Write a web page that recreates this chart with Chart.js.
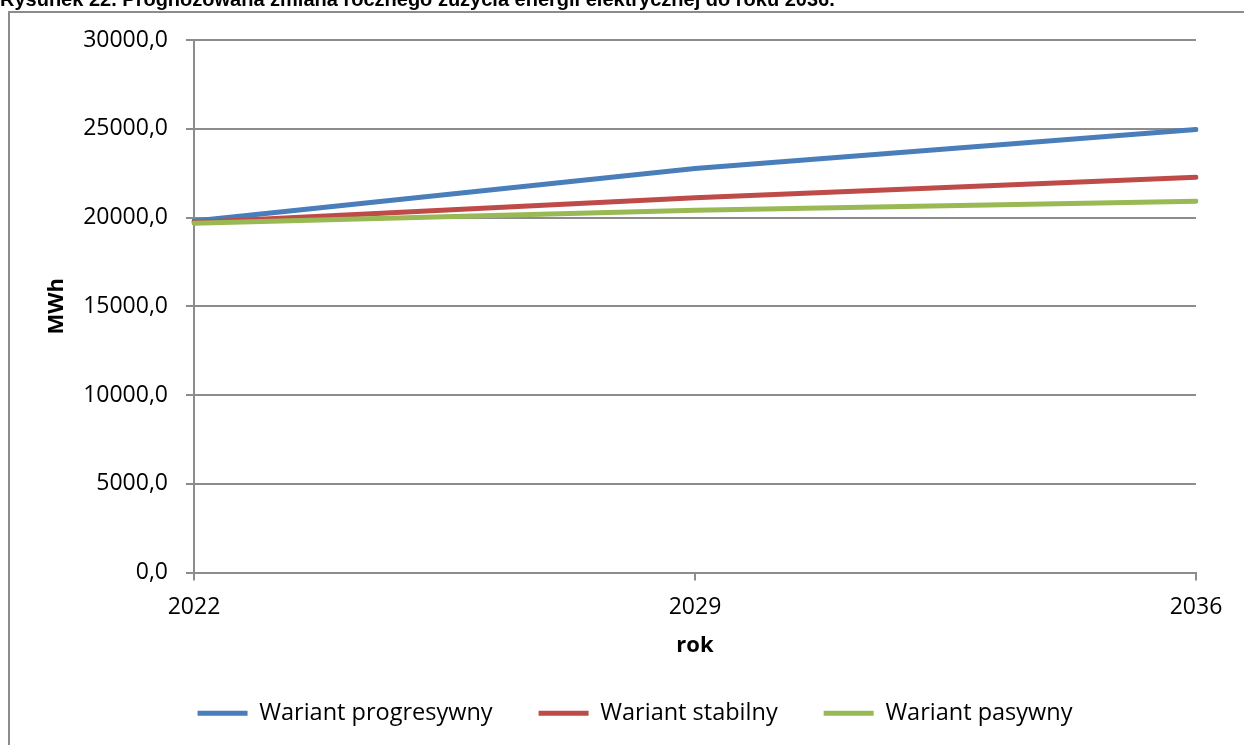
<!DOCTYPE html>
<html>
<head>
<meta charset="utf-8">
<script src="https://cdn.jsdelivr.net/npm/chart.js@4/dist/chart.umd.min.js"></script>
<style>
  html, body { margin: 0; padding: 0; background: #fff; overflow: hidden; }
  #frame { position: absolute; left: 8px; top: 11px; width: 1300px; height: 800px; border: 2px solid #8c8c8c; }
  #wrap { position: absolute; left: 0; top: 0; width: 1270px; height: 745px; }
  #caption { position: absolute; left: 0; top: -11px; font: bold 20px "Liberation Sans", Arial, sans-serif; line-height: 20px; white-space: nowrap; color: #000; }
</style>
</head>
<body>
<div id="frame"></div>
<div id="wrap"><canvas id="chart"></canvas></div>
<div id="caption">Rysunek 22. Prognozowana zmiana rocznego zużycia energii elektrycznej do roku 2036.</div>
<script>
const years = ["2022", "2029", "2036"];
const progresywny = [19800, 22760, 24960];
const stabilny = [19720, 21110, 22270];
const pasywny = [19680, 20410, 20920];
const seriesNames = ["Wariant progresywny", "Wariant stabilny", "Wariant pasywny"];
const seriesColors = ["#4a7ebb", "#be4b48", "#98b954"];

const FONT = "'Open Sans', 'Noto Sans', sans-serif";
const GRID = "#8c8c8c";

function line(label, data, color, order) {
  return {
    label, data, order,
    borderColor: color,
    backgroundColor: color,
    borderWidth: 5,
    borderCapStyle: "round",
    pointRadius: 0,
    pointHoverRadius: 0,
    tension: 0,
    fill: false
  };
}

new Chart(document.getElementById("chart"), {
  type: "line",
  data: {
    labels: years,
    datasets: [
      line(seriesNames[0], progresywny, seriesColors[0], 3),
      line(seriesNames[1], stabilny, seriesColors[1], 2),
      line(seriesNames[2], pasywny, seriesColors[2], 1)
    ]
  },
  options: {
    responsive: true,
    maintainAspectRatio: false,
    animation: false,
    layout: { padding: { top: 40, left: 0, right: 0, bottom: 10 } },
    plugins: {
      tooltip: { enabled: false },
      legend: {
        position: "bottom",
        labels: {
          usePointStyle: true,
          pointStyle: "line",
          pointStyleWidth: 50,
          padding: 46,
          color: "#000",
          font: { family: FONT, size: 23.5 },
          sort: (a, b) => a.datasetIndex - b.datasetIndex
        }
      }
    },
    scales: {
      x: {
        offset: false,
        grid: { drawOnChartArea: false, color: GRID, lineWidth: 2, tickLength: 8 },
        border: { color: GRID, width: 2 },
        ticks: { color: "#000", font: { family: FONT, size: 23 }, padding: 13, maxRotation: 0 },
        title: { display: true, text: "rok", color: "#000", font: { family: FONT, size: 22, weight: "bold" }, padding: { top: 0, bottom: -3 } },
        afterFit(s) { s.height = 83; }
      },
      y: {
        min: 0,
        max: 30000,
        grid: { color: GRID, lineWidth: 2, tickLength: 8 },
        border: { color: GRID, width: 2 },
        ticks: {
          stepSize: 5000,
          color: "#000",
          font: { family: FONT, size: 23 },
          padding: 18,
          callback: v => v.toFixed(1).replace(".", ",")
        },
        title: { display: true, text: "MWh", color: "#000", font: { family: FONT, size: 22, weight: "bold" }, padding: { top: 44, bottom: 0 } },
        afterFit(s) { s.width = 194; }
      },
      yRight: {
        position: "right",
        grid: { display: false },
        border: { display: false },
        ticks: { display: false },
        afterFit(s) { s.width = 74; }
      }
    }
  }
});
</script>
</body>
</html>
